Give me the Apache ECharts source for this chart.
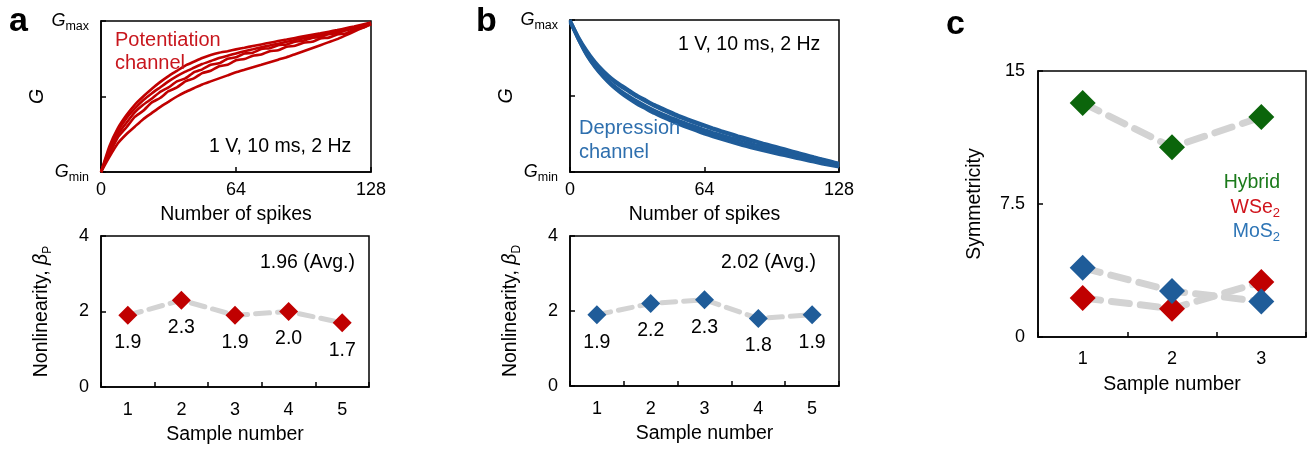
<!DOCTYPE html>
<html><head><meta charset="utf-8">
<script src="https://cdn.jsdelivr.net/npm/echarts@6/dist/echarts.min.js"></script>
<style>html,body{margin:0;padding:0;background:#fff}#c{width:1307px;height:449px}</style>
</head><body><div id="c"></div>
<script>
// ---- data ----
const spikes = [0,4,8,12,16,20,24,28,32,36,40,44,48,52,56,60,64,68,72,76,80,84,88,92,96,100,104,108,112,116,120,124,128];
const potentiation1 = [0,0.17,0.29,0.375,0.445,0.5,0.55,0.595,0.635,0.67,0.705,0.73,0.755,0.775,0.79,0.8,0.812,0.823,0.834,0.845,0.856,0.867,0.877,0.888,0.898,0.908,0.918,0.929,0.94,0.952,0.964,0.977,0.99];
const potentiation2 = [0,0.15,0.27,0.355,0.42,0.475,0.52,0.56,0.6,0.635,0.665,0.69,0.715,0.735,0.755,0.77,0.785,0.8,0.813,0.826,0.838,0.85,0.862,0.874,0.886,0.897,0.908,0.92,0.932,0.945,0.958,0.972,0.985];
const potentiation3 = [0,0.135,0.25,0.325,0.395,0.445,0.485,0.53,0.56,0.6,0.62,0.66,0.68,0.71,0.72,0.75,0.76,0.785,0.79,0.815,0.82,0.84,0.845,0.862,0.87,0.888,0.895,0.912,0.92,0.937,0.95,0.968,0.985];
const potentiation4 = [0,0.12,0.23,0.295,0.365,0.405,0.46,0.49,0.535,0.56,0.6,0.62,0.655,0.67,0.7,0.71,0.74,0.748,0.77,0.778,0.8,0.806,0.83,0.836,0.856,0.862,0.884,0.89,0.91,0.918,0.942,0.955,0.978];
const potentiation5 = [0,0.1,0.19,0.25,0.3,0.35,0.39,0.43,0.465,0.5,0.53,0.555,0.58,0.6,0.62,0.64,0.66,0.677,0.694,0.71,0.727,0.744,0.76,0.78,0.8,0.82,0.84,0.86,0.88,0.905,0.93,0.955,0.98];
const depression1 = [1,0.89,0.8,0.725,0.665,0.615,0.575,0.54,0.505,0.475,0.445,0.42,0.395,0.37,0.35,0.33,0.31,0.29,0.272,0.255,0.238,0.222,0.206,0.19,0.175,0.16,0.145,0.13,0.115,0.1,0.086,0.072,0.058];
const depression2 = [1,0.885,0.79,0.715,0.655,0.603,0.562,0.527,0.493,0.462,0.433,0.407,0.383,0.36,0.339,0.319,0.3,0.281,0.263,0.246,0.229,0.213,0.198,0.183,0.168,0.154,0.139,0.125,0.11,0.096,0.082,0.068,0.055];
const depression3 = [0.995,0.875,0.775,0.695,0.632,0.58,0.537,0.5,0.466,0.436,0.408,0.383,0.36,0.338,0.317,0.298,0.279,0.261,0.244,0.228,0.212,0.197,0.182,0.168,0.154,0.14,0.127,0.113,0.1,0.087,0.074,0.061,0.048];
const depression4 = [0.99,0.872,0.77,0.69,0.625,0.572,0.528,0.49,0.455,0.425,0.396,0.371,0.347,0.324,0.303,0.283,0.264,0.246,0.229,0.212,0.196,0.181,0.166,0.153,0.14,0.127,0.114,0.101,0.089,0.077,0.065,0.053,0.04];
const depression5 = [0.985,0.87,0.765,0.685,0.62,0.565,0.52,0.48,0.445,0.415,0.385,0.36,0.335,0.312,0.29,0.27,0.25,0.232,0.215,0.198,0.182,0.167,0.153,0.14,0.127,0.114,0.101,0.089,0.077,0.065,0.053,0.042,0.032];
const samples5 = ['1','2','3','4','5'];
const betaP = [1.9,2.3,1.9,2.0,1.7];
const betaD = [1.9,2.2,2.3,1.8,1.9];
const samples3 = ['1','2','3'];
const symHybrid = [13.2,10.7,12.4];
const symWSe2 = [2.2,1.6,3.1];
const symMoS2 = [3.9,2.6,2.0];

// ---- style ----
const FONT = 'Liberation Sans, Arial, sans-serif';
const RED = '#c00000', BLUE = '#1f5c99', GREEN = '#0b650b';
const GRAY = '#d3d3d3';
const FS = 19.5;   // names / annotations
const TFS = 18;    // tick labels
const axisLineStyle = {color:'#000', width:1.5};
function pairs(ys){ return spikes.map((x,i)=>[x, ys[i]]); }
const gridBase = {show:true, borderColor:'#000', borderWidth:1.5, backgroundColor:'transparent'};
const grids = [
  Object.assign({left:101, top:21, width:270, height:151}, gridBase),
  Object.assign({left:101, top:236, width:268, height:151}, gridBase),
  Object.assign({left:570, top:20, width:269, height:152}, gridBase),
  Object.assign({left:570, top:236, width:269, height:150}, gridBase),
  Object.assign({left:1038, top:71, width:268, height:266}, gridBase)
];
const tick = {show:true, inside:true, length:5, lineStyle:axisLineStyle};
const lbl = {fontSize:TFS, color:'#000', fontFamily:FONT};
const nameStyle = {fontSize:FS, color:'#000', fontFamily:FONT};
function spikeX(gi){
  return {type:'value', gridIndex:gi, min:0, max:128, interval:64,
    axisLine:{show:true, lineStyle:axisLineStyle}, axisTick:tick, splitLine:{show:false},
    axisLabel:Object.assign({margin:9}, lbl),
    name:'Number of spikes', nameLocation:'middle', nameGap:33, nameTextStyle:nameStyle};
}
function gY(gi){
  return {type:'value', gridIndex:gi, min:0, max:1, interval:0.5,
    axisLine:{show:true, lineStyle:axisLineStyle}, axisTick:tick, splitLine:{show:false},
    axisLabel:{margin:12, formatter:v=> v===1 ? '{i|G}{s|max}' : (v===0 ? '{i|G}{s|min}' : ''),
      rich:{i:{fontSize:18, fontStyle:'italic', color:'#000', fontFamily:FONT, lineHeight:24, verticalAlign:'middle'},
            s:{fontSize:12.5, color:'#000', fontFamily:FONT, lineHeight:12, verticalAlign:'bottom'}}},
    name:'G', nameLocation:'middle', nameGap:46, nameRotate:90,
    nameTextStyle:Object.assign({fontStyle:'italic'}, nameStyle)};
}
function sampleX(gi, cats, gap, margin){
  return {type:'category', gridIndex:gi, data:cats, boundaryGap:true,
    axisLine:{show:true, lineStyle:axisLineStyle}, axisTick:Object.assign({alignWithLabel:false}, tick), splitLine:{show:false},
    axisLabel:Object.assign({margin:margin}, lbl),
    name:'Sample number', nameLocation:'middle', nameGap:gap, nameTextStyle:nameStyle};
}
function betaY(gi, sub){
  return {type:'value', gridIndex:gi, min:0, max:4, interval:2,
    axisLine:{show:true, lineStyle:axisLineStyle}, axisTick:tick, splitLine:{show:false},
    axisLabel:Object.assign({margin:12}, lbl),
    name:'{n|Nonlinearity, }{b|β}{s|'+sub+'}', nameLocation:'middle', nameGap:47, nameRotate:90,
    nameTextStyle:{rich:{
      n:{fontSize:FS, color:'#000', fontFamily:FONT, lineHeight:24, verticalAlign:'middle'},
      b:{fontSize:FS, color:'#000', fontFamily:FONT, fontStyle:'italic', lineHeight:24, verticalAlign:'middle'},
      s:{fontSize:12, color:'#000', fontFamily:FONT, lineHeight:11, verticalAlign:'bottom'}}}};
}
const symY = {type:'value', gridIndex:4, min:0, max:15, interval:7.5,
  axisLine:{show:true, lineStyle:axisLineStyle}, axisTick:tick, splitLine:{show:false},
  axisLabel:Object.assign({margin:13}, lbl),
  name:'Symmetricity', nameLocation:'middle', nameGap:53, nameRotate:90, nameTextStyle:nameStyle};

const series = [];
[potentiation1,potentiation2,potentiation3,potentiation4,potentiation5].forEach(d=>{
  series.push({type:'line', xAxisIndex:0, yAxisIndex:0, data:pairs(d), showSymbol:false, symbol:'none',
    smooth:0.15, lineStyle:{color:RED, width:2.6}, z:2});
});
[depression1,depression2,depression3,depression4,depression5].forEach(d=>{
  series.push({type:'line', xAxisIndex:2, yAxisIndex:2, data:pairs(d), showSymbol:false, symbol:'none',
    smooth:0.15, lineStyle:{color:BLUE, width:3}, z:2});
});
function valOf(p){ return Array.isArray(p.value) ? p.value[1] : p.value; }
function betaSeries(ai, data, color){
  series.push({type:'line', xAxisIndex:ai, yAxisIndex:ai, data:data, symbol:'none',
    lineStyle:{color:GRAY, width:5, type:[14,8], cap:'round'}, z:2});
  series.push({type:'scatter', xAxisIndex:ai, yAxisIndex:ai, data:data, symbol:'diamond', symbolSize:19,
    itemStyle:{color:color, opacity:1}, z:4,
    label:{show:true, position:'bottom', distance:8, fontSize:FS, color:'#000', fontFamily:FONT,
      formatter:p=>valOf(p).toFixed(1)}});
}
betaSeries(1, betaP, RED);
betaSeries(3, betaD, BLUE);
[[symHybrid,GREEN],[symWSe2,RED],[symMoS2,BLUE]].forEach(([d,c])=>{
  series.push({type:'line', xAxisIndex:4, yAxisIndex:4, data:d, symbol:'none',
    lineStyle:{color:GRAY, width:7, type:[18,11], cap:'round'}, z:2});
});
[[symHybrid,GREEN],[symWSe2,RED],[symMoS2,BLUE]].forEach(([d,c])=>{
  series.push({type:'scatter', xAxisIndex:4, yAxisIndex:4, data:d, symbol:'diamond', symbolSize:26,
    itemStyle:{color:c, opacity:1}, z:4});
});

function txt(text, x, y, opts){
  return {type:'text', z:10, style:Object.assign({text:text, x:x, y:y, fontSize:FS, fontFamily:FONT, fill:'#000',
    textAlign:'left', textVerticalAlign:'middle'}, opts||{})};
}
const graphics = [
  txt('a', 9, 22, {fontSize:34, fontWeight:'bold'}),
  txt('b', 476, 22, {fontSize:34, fontWeight:'bold'}),
  txt('c', 946, 25, {fontSize:34, fontWeight:'bold'}),
  txt('Potentiation\nchannel', 115, 52, {fill:'#c8161d', fontSize:20, lineHeight:23}),
  txt('1 V, 10 ms, 2 Hz', 209, 147),
  txt('1 V, 10 ms, 2 Hz', 678, 45),
  txt('Depression\nchannel', 579, 140, {fill:'#2e6fae', fontSize:20, lineHeight:24}),
  txt('1.96 (Avg.)', 260, 263),
  txt('2.02 (Avg.)', 721, 263),
  txt('Hybrid', 1280, 183, {fill:'#1b7a1b', textAlign:'right'}),
  {type:'text', z:10, style:{text:'{a|WSe}{b|2}', x:1280, y:208, textAlign:'right', textVerticalAlign:'middle',
    rich:{a:{fontSize:FS, fontFamily:FONT, fill:'#d0141c', color:'#d0141c', lineHeight:24, verticalAlign:'middle'},
          b:{fontSize:13, fontFamily:FONT, fill:'#d0141c', color:'#d0141c', lineHeight:12, verticalAlign:'bottom'}}}},
  {type:'text', z:10, style:{text:'{a|MoS}{b|2}', x:1280, y:232, textAlign:'right', textVerticalAlign:'middle',
    rich:{a:{fontSize:FS, fontFamily:FONT, fill:'#2e75b6', color:'#2e75b6', lineHeight:24, verticalAlign:'middle'},
          b:{fontSize:13, fontFamily:FONT, fill:'#2e75b6', color:'#2e75b6', lineHeight:12, verticalAlign:'bottom'}}}}
];

const chart = echarts.init(document.getElementById('c'), null, {renderer:'canvas'});
chart.setOption({
  animation:false,
  backgroundColor:'#fff',
  textStyle:{fontFamily:FONT},
  grid:grids,
  xAxis:[spikeX(0), sampleX(1, samples5, 38, 14), spikeX(2), sampleX(3, samples5, 38, 14), sampleX(4, samples3, 38, 13)],
  yAxis:[gY(0), betaY(1,'P'), gY(2), betaY(3,'D'), symY],
  series:series,
  graphic:graphics
});
</script></body></html>
